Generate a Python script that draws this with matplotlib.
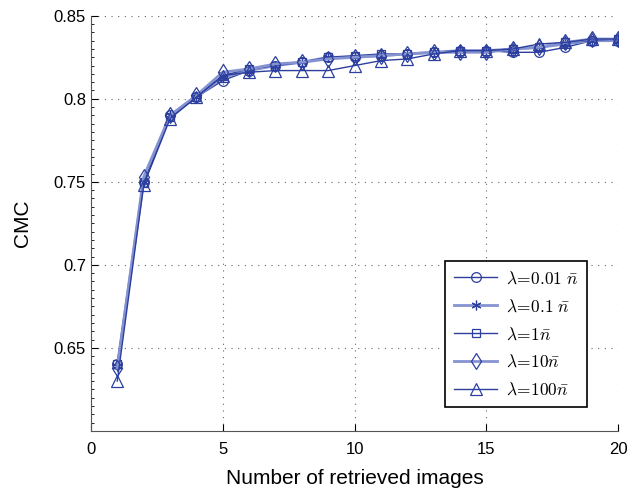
import numpy as np
import matplotlib
matplotlib.use("Agg")
import matplotlib.pyplot as plt
from matplotlib.ticker import MultipleLocator

plt.rcParams['mathtext.fontset'] = 'cm'
plt.rcParams['font.family'] = ['Liberation Sans', 'DejaVu Sans']

# number of retrieved images
ranks = list(range(1, 21))

# CMC values per lambda setting
cmc_001 = [0.640, 0.750, 0.790, 0.801, 0.811, 0.817, 0.820, 0.822, 0.825, 0.825, 0.826, 0.827, 0.828, 0.829, 0.829, 0.828, 0.828, 0.831, 0.835, 0.835]
cmc_01 = [0.639, 0.750, 0.790, 0.801, 0.813, 0.817, 0.820, 0.822, 0.825, 0.825, 0.826, 0.827, 0.828, 0.829, 0.829, 0.830, 0.831, 0.833, 0.835, 0.835]
cmc_1 = [0.640, 0.749, 0.789, 0.801, 0.814, 0.818, 0.820, 0.822, 0.825, 0.826, 0.827, 0.827, 0.828, 0.829, 0.829, 0.830, 0.831, 0.834, 0.835, 0.836]
cmc_10 = [0.638, 0.753, 0.790, 0.802, 0.816, 0.818, 0.821, 0.822, 0.824, 0.825, 0.826, 0.827, 0.828, 0.828, 0.828, 0.830, 0.831, 0.834, 0.836, 0.836]
cmc_100 = [0.630, 0.748, 0.788, 0.801, 0.814, 0.816, 0.817, 0.817, 0.817, 0.820, 0.823, 0.824, 0.827, 0.829, 0.829, 0.830, 0.833, 0.834, 0.836, 0.836]

labels = [r'$\lambda\!=\!0.01\ \bar{n}$', r'$\lambda\!=\!0.1\ \bar{n}$',
          r'$\lambda\!=\!1\bar{n}$', r'$\lambda\!=\!10\bar{n}$', r'$\lambda\!=\!100\bar{n}$']
series = [cmc_001, cmc_01, cmc_1, cmc_10, cmc_100]
markers = ['o', (6, 2, 0), 's', 'd', '^']

dark = '#2c3f9e'
light = '#8593d0'
colors = [dark, light, dark, light, dark]
widths = [1.0, 2.0, 1.0, 2.0, 1.0]
msizes = [7, 7, 6, 8, 8]

fig = plt.figure(figsize=(6.27, 4.93), dpi=100)
ax = fig.add_axes([0.145, 0.126, 0.841, 0.842])

for vals, lab, m, c, w, ms in zip(series, labels, markers, colors, widths, msizes):
    ax.plot(ranks, vals, marker=m, color=c, lw=w, ms=ms, mfc='none', mec=dark,
            mew=0.9, label=lab)

ax.set_xlim(0, 20)
ax.set_ylim(0.6, 0.85)
ax.set_xticks([0, 5, 10, 15, 20])
ax.set_yticks([0.65, 0.7, 0.75, 0.8, 0.85])
ax.set_yticklabels(['0.65', '0.7', '0.75', '0.8', '0.85'])
ax.yaxis.set_minor_locator(MultipleLocator(0.005))
ax.tick_params(direction='in', labelsize=12, length=5)
ax.tick_params(which='minor', direction='in', length=2)
ax.tick_params(axis='x', pad=8)
ax.grid(True, linestyle=(0, (1, 5)), color='#666666', lw=0.8)

ax.spines['top'].set_visible(False)
ax.spines['right'].set_visible(False)
ax.spines['left'].set_color('#555555')
ax.spines['bottom'].set_color('#555555')

ax.set_xlabel('Number of retrieved images', fontsize=15, labelpad=9)
ax.set_ylabel('CMC', fontsize=15, labelpad=16)

leg = ax.legend(loc='lower right', fontsize=12.5, fancybox=False, framealpha=1,
                edgecolor='black', borderpad=0.5, handlelength=2.5,
                labelspacing=0.66, handletextpad=0.5, borderaxespad=0,
                bbox_to_anchor=(0.941, 0.058))
leg.get_frame().set_linewidth(1.2)

fig.savefig('out.png', dpi=100)
